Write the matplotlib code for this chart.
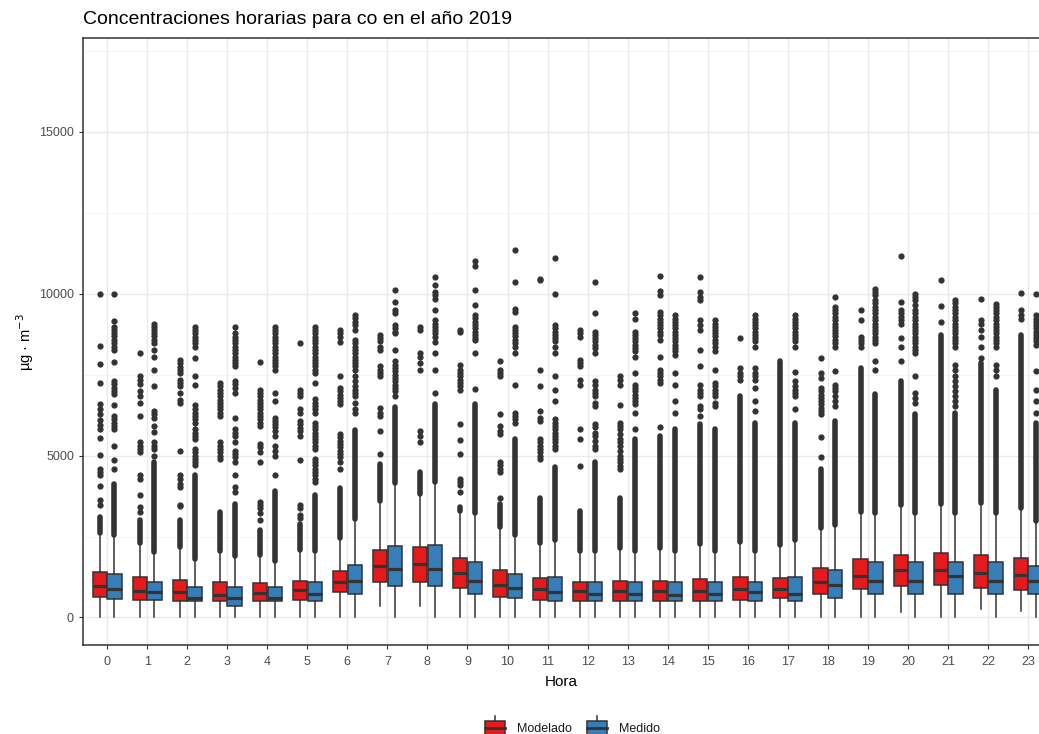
import matplotlib
matplotlib.use('Agg')
import matplotlib.pyplot as plt
from matplotlib.patches import Rectangle
from matplotlib.lines import Line2D
import numpy as np

plt.rcParams['font.family'] = ['Liberation Sans', 'DejaVu Sans']

# ---- datos ----
hours = list(range(24))

mod_lo = [20, 20, 20, 20, 20, 20, 20, 350, 350, 20, 20, 20, 20, 20, 20, 20, 20, 20, 20, 20, 165, 20, 247, 206]
mod_q1 = [627, 545, 504, 504, 504, 545, 792, 1111, 1111, 916, 627, 545, 514, 514, 514, 514, 555, 596, 740, 885, 966, 1008, 916, 864]
mod_med = [966, 833, 792, 689, 761, 854, 1111, 1584, 1666, 1379, 998, 895, 823, 823, 823, 823, 885, 885, 1101, 1276, 1461, 1461, 1379, 1327]
mod_q3 = [1398, 1245, 1152, 1111, 1060, 1142, 1430, 2078, 2170, 1842, 1471, 1224, 1111, 1142, 1142, 1193, 1245, 1224, 1522, 1811, 1944, 1985, 1944, 1842]
mod_hi = [2554, 2250, 2124, 1980, 1860, 2020, 2387, 3528, 3758, 3231, 2737, 2243, 2006, 2084, 2084, 2211, 2280, 2166, 2695, 3200, 3411, 3450, 3486, 3309]
mod_dense_top = [3100, 3000, 3000, 3250, 2700, 2900, 4000, 4750, 4500, 3400, 3500, 3700, 3300, 3680, 5610, 5970, 6840, 7910, 4590, 7700, 7300, 8730, 7860, 8730]
mod_out = [
    [10000, 8400, 7840, 7250, 6580, 6450, 6300, 6100, 5950, 5820, 5530, 5030, 4600, 4500, 4390, 4050, 3620, 3470],
    [8180, 7450, 7350, 7200, 7000, 6850, 6630, 6230, 5410, 5300, 5200, 5100, 4390, 4290, 3780, 3420, 3270],
    [7960, 7860, 7750, 7650, 7550, 7350, 7250, 7140, 6940, 6730, 6630, 5150, 4390, 4290, 4130, 4030, 3470, 3430],
    [7250, 7140, 7040, 6940, 6840, 6730, 6630, 6530, 6430, 6330, 6230, 5410, 5310, 5210, 5100, 5000, 4900],
    [7880, 7040, 6940, 6840, 6730, 6630, 6530, 6430, 6330, 6230, 6120, 6020, 5920, 5360, 5260, 5100, 4800, 3570, 3470, 3370, 3240, 3020],
    [8470, 7040, 6940, 6840, 6430, 6330, 6070, 5970, 5860, 5760, 5610, 4850, 3470, 3370, 3180, 3080],
    [8880, 8780, 8670, 8520, 7450, 7090, 6990, 6880, 6780, 6680, 6580, 5660, 5560, 5460, 5360, 5260, 5150, 5050, 4950, 4800, 4600],
    [8730, 8630, 8530, 8370, 8270, 7760, 7650, 7550, 7450, 6480, 6330, 6230, 5770, 5050],
    [8980, 8880, 8160, 8060, 7860, 7650, 5770, 5610, 5410],
    [8880, 8820, 7810, 7650, 7550, 7450, 7350, 7250, 7140, 7040, 5970, 5490, 5050, 4290, 4180, 4080, 3880],
    [7910, 7650, 7550, 7450, 6280, 5920, 5770, 5660, 4800, 4700, 4590, 4490, 3680],
    [10460, 10410, 7650, 7140, 6380, 6170, 6070, 5510, 5410, 5310, 5210, 5100, 5000, 4900],
    [8880, 8780, 8670, 7960, 7860, 7760, 7350, 7190, 5820, 5510, 4680],
    [7450, 7350, 7190, 6550, 6020, 5920, 5820, 5660, 5510, 5410, 5310, 5150, 5000, 4900, 4800, 4690, 4590],
    [10560, 10100, 9950, 9440, 9340, 9230, 9130, 9030, 8930, 8830, 8730, 8570, 8060, 7650, 7550, 7450, 7350, 7250, 5870],
    [10530, 10050, 9900, 9800, 9180, 9030, 8880, 8270, 7760, 7190, 7040, 6940, 6840, 6530, 6430, 6230],
    [8620, 7700, 7550, 7450, 7350],
    [],
    [8010, 7550, 7400, 7090, 6990, 6880, 6780, 6680, 6580, 6480, 6380, 6280, 5560, 4970],
    [9490, 9180, 8670, 8570, 8470, 8370],
    [11170, 9750, 9490, 9390, 9290, 9180, 9080, 8620, 8370, 7910],
    [10440, 9610, 9130],
    [9850, 9180, 9080, 8880, 8670, 8370, 8010],
    [10020, 9490, 9340, 9230],
]

med_lo = [20] * 24
med_q1 = [586, 535, 504, 360, 504, 514, 730, 966, 966, 740, 596, 514, 514, 514, 514, 514, 514, 514, 596, 730, 730, 730, 730, 730]
med_med = [895, 792, 596, 596, 596, 720, 1132, 1502, 1502, 1132, 905, 782, 710, 710, 689, 710, 782, 710, 988, 1122, 1132, 1276, 1132, 1122]
med_q3 = [1348, 1111, 957, 957, 957, 1111, 1625, 2222, 2232, 1708, 1348, 1245, 1111, 1111, 1111, 1111, 1111, 1245, 1471, 1708, 1708, 1708, 1708, 1605]
med_hi = [2491, 1975, 1750, 1830, 1700, 1990, 2967, 4106, 4130, 3160, 2476, 2341, 2006, 2006, 2006, 2006, 2006, 2341, 2784, 3175, 3175, 3175, 3175, 2918]
med_dense_top = [4130, 4800, 4400, 3500, 3900, 3780, 5800, 6500, 6600, 6600, 5500, 4650, 4800, 5510, 5820, 5820, 6020, 6020, 6070, 6890, 6280, 6330, 7040, 6020]
med_out = [
    [9980, 9160, 8980, 8880, 8780, 8680, 8570, 8470, 8370, 8270, 7890, 7300, 7200, 7100, 6990, 6890, 6560, 6230, 6120, 6020, 5920, 5820, 5310, 4850, 4600],
    [9080, 8980, 8880, 8780, 8680, 8570, 8470, 8270, 8060, 7650, 7140, 6380, 6280, 6170, 5920, 5720, 5410, 5310, 5200, 5000],
    [8980, 8880, 8780, 8670, 8570, 8470, 8370, 8010, 7450, 7190, 6560, 6450, 6330, 6230, 6120, 6020, 5820, 5710, 5610, 5510, 5210, 5100, 5000, 4900, 4800, 4700],
    [8980, 8780, 8670, 8570, 8470, 8370, 8270, 8160, 8060, 7960, 7860, 7760, 7300, 7200, 7100, 6940, 6170, 5820, 5710, 5610, 5410, 5150, 5050, 4950, 4800, 4390, 4030, 3880],
    [8980, 8880, 8780, 8670, 8570, 8470, 8370, 8270, 8160, 8060, 7960, 7860, 7760, 7650, 6940, 6680, 6170, 6070, 5970, 5870, 5760, 5610, 5310, 5150, 5000, 4390],
    [8980, 8880, 8780, 8670, 8570, 8470, 8370, 8270, 8160, 8060, 7960, 7860, 7760, 7650, 7550, 7250, 6740, 6630, 6530, 6430, 6330, 6020, 5920, 5820, 5710, 5610, 5510, 5410, 5310, 5210, 4900, 4800, 4700, 4590, 4490, 4390, 4290, 4180],
    [9340, 9240, 9130, 9030, 8880, 8570, 8470, 8370, 8270, 8160, 8060, 7960, 7860, 7760, 7650, 7450, 7300, 7140, 7040, 6940, 6840, 6630, 6430, 6330],
    [10120, 9750, 9490, 9390, 9030, 8930, 8830, 8780, 8270, 7910, 7810, 7700, 7600, 7500, 7400, 7300, 7190, 7090, 6990, 6840],
    [10510, 10260, 10050, 9950, 9850, 9490, 9180, 9080, 8980, 8880, 8780, 8670, 8520, 8160, 7650, 6940],
    [11020, 10870, 10120, 9640, 9340, 9240, 9130, 9030, 8930, 8830, 8730, 8630, 8570, 8160, 7060],
    [11360, 10360, 9540, 9440, 8980, 8880, 8780, 8680, 8570, 8470, 8370, 8160, 7190, 6330, 6230, 6120, 6020],
    [11100, 10000, 9030, 8930, 8830, 8730, 8630, 8530, 8370, 8160, 7450, 7040, 6680, 6120, 6020, 5920, 5820, 5710, 5610, 5510, 5410, 5310, 5210],
    [10360, 9390, 8830, 8730, 8630, 8530, 8420, 8320, 8160, 7300, 7190, 7040, 6940, 6840, 6630, 6530, 5970, 5870, 5710, 5610, 5460, 5310, 5210],
    [9390, 9230, 8830, 8730, 8630, 8530, 8420, 8320, 8220, 8060, 7550, 7190, 7090, 6990, 6880, 6780, 6680, 6580, 6330, 5820],
    [9340, 9230, 9130, 9030, 8930, 8830, 8730, 8630, 8530, 8420, 8320, 8220, 8110, 7550, 7190, 6680, 6330],
    [9180, 9080, 8980, 8880, 8780, 8680, 8570, 8470, 8370, 8220, 7650, 7250, 7140, 7040, 6940, 6840, 6630, 6530],
    [9340, 9230, 9130, 9030, 8930, 8830, 8730, 8630, 8530, 8370, 7700, 7550, 7450, 7350, 7090, 6680, 6380],
    [9340, 9230, 9130, 9030, 8930, 8830, 8730, 8630, 8530, 8370, 7570, 7300, 7140, 7040, 6940, 6840, 6450],
    [9900, 9590, 9490, 9390, 9290, 9180, 9080, 8980, 8880, 8780, 8680, 8570, 8470, 8370, 7600, 7190, 7090, 6990, 6840, 6680, 6530],
    [10150, 10050, 9950, 9800, 9700, 9590, 9490, 9390, 9290, 9180, 9080, 8980, 8880, 8780, 8670, 8570, 8470, 7910, 7650],
    [10000, 9900, 9800, 9650, 9490, 9390, 9290, 9180, 9080, 8980, 8880, 8780, 8670, 8570, 8470, 8370, 8270, 8160, 7450, 6940, 6790, 6630],
    [9800, 9700, 9590, 9490, 9390, 9290, 9180, 9080, 8980, 8880, 8780, 8670, 8570, 8470, 8370, 7810, 7650, 7450, 7300, 7140, 6990, 6840, 6680, 6530],
    [9690, 9590, 9490, 9390, 9290, 9180, 9080, 8980, 8880, 8780, 8670, 8570, 8470, 8370, 7810, 7650, 7450],
    [10000, 9340, 9230, 9130, 9030, 8930, 8830, 8730, 8630, 8530, 8420, 7600, 7040, 6680, 6330],
]

series = ['Modelado', 'Medido']
colors = ['#E41A1C', '#377EB8']
EDGE = '#333333'
W, H = 1039, 734


def px(x, y):
    return x / W, 1 - y / H


def draw_group(ax, offset, color, lo, q1, med, q3, hi, dense_top, out):
    pos = np.array(hours) + offset
    # outliers: banda densa + puntos sueltos
    for p, h, d, pts in zip(pos, hi, dense_top, out):
        ax.plot([p, p], [h + 60, d], color=EDGE, lw=4.0, solid_capstyle='round', zorder=2)
        if pts:
            ax.plot([p] * len(pts), pts, 'o', color=EDGE, ms=4.5, mew=0, zorder=2)
    stats = [dict(whislo=a, q1=b, med=c, q3=d, whishi=e, fliers=[])
             for a, b, c, d, e in zip(lo, q1, med, q3, hi)]
    ax.bxp(stats, positions=pos, widths=0.355, patch_artist=True,
           showcaps=False, showfliers=False, manage_ticks=False,
           boxprops=dict(facecolor=color, edgecolor=EDGE, linewidth=1.1),
           medianprops=dict(color=EDGE, linewidth=2.3),
           whiskerprops=dict(color=EDGE, linewidth=1.1), zorder=3)


fig = plt.figure(figsize=(W / 100, H / 100), dpi=100)
l, b = px(83, 645)
r, t = px(1039, 38)
ax = fig.add_axes([l, b, r - l, t - b])

draw_group(ax, -0.185, colors[0], mod_lo, mod_q1, mod_med, mod_q3, mod_hi, mod_dense_top, mod_out)
draw_group(ax, 0.185, colors[1], med_lo, med_q1, med_med, med_q3, med_hi, med_dense_top, med_out)

ax.set_xlim(-0.6, 23.27)
ax.set_ylim(-850, 17900)
ax.set_xticks(hours)
ax.set_xticklabels([str(h) for h in hours])
ax.set_yticks([0, 5000, 10000, 15000])
ax.set_yticks([2500, 7500, 12500, 17500], minor=True)
ax.grid(True, which='major', color='#EBEBEB', lw=1.0)
ax.grid(True, which='minor', axis='y', color='#F2F2F2', lw=0.6)
ax.set_axisbelow(True)
ax.tick_params(axis='both', which='major', colors=EDGE, labelcolor='#4D4D4D',
               labelsize=9, length=3, width=0.8)
ax.tick_params(axis='x', which='major', pad=5)
ax.tick_params(axis='y', which='minor', length=0)
for s in ['left', 'bottom', 'top']:
    ax.spines[s].set_color(EDGE)
    ax.spines[s].set_linewidth(1.1)
ax.spines['right'].set_visible(False)

ax.set_xlabel('Hora', fontsize=11, color='black', labelpad=5)
ax.set_ylabel('µg · m$^{-3}$', fontsize=10.5, color='black', labelpad=2)
fig.text(*px(83, 20), 'Concentraciones horarias para co en el año 2019',
         fontsize=14, ha='left', va='center')

# leyenda manual (glifo de boxplot)
for x0, col, lab in [(485, colors[0], series[0]), (587, colors[1], series[1])]:
    fig.add_artist(Rectangle(px(x0, 740), 20 / W, 19 / H, transform=fig.transFigure,
                             facecolor=col, edgecolor=EDGE, lw=1.1))
    fig.add_artist(Line2D([px(x0, 0)[0], px(x0 + 20, 0)[0]], [px(0, 728)[1]] * 2,
                          transform=fig.transFigure, color=EDGE, lw=2))
    fig.add_artist(Line2D([px(x0 + 10, 0)[0]] * 2, [px(0, 716)[1], px(0, 721)[1]],
                          transform=fig.transFigure, color=EDGE, lw=1.1))
    fig.text(*px(x0 + 32, 729), lab, fontsize=9, ha='left', va='center', color='#1a1a1a')

fig.savefig('out.png', dpi=100)
